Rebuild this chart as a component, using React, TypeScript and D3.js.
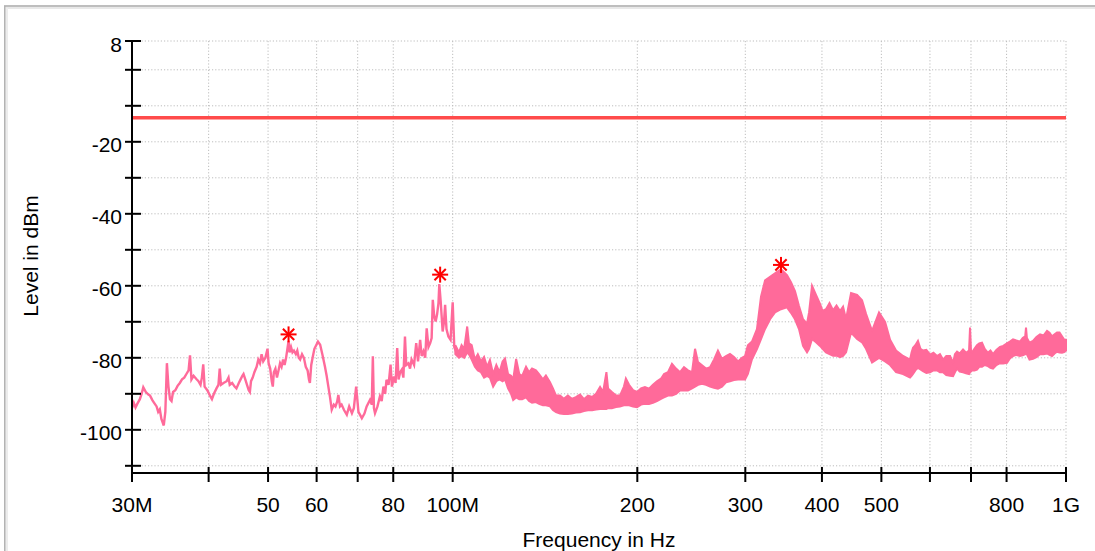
import React from 'react';
import * as d3 from 'd3';

// Frequencies in MHz, levels in dBm
const traceFreq = [30.0,30.2,30.4,30.6,30.9,31.1,31.3,31.6,31.9,32.1,32.4,32.6,32.9,33.1,33.3,33.5,33.8,34.0,34.2,34.4,34.6,34.8,35.0,35.3,35.6,35.9,36.2,36.5,36.8,37.1,37.3,37.5,37.8,38.2,38.5,38.8,39.0,39.2,39.4,39.8,40.2,40.5,40.8,41.2,41.5,41.7,41.9,42.3,42.8,43.1,43.3,43.7,44.1,44.4,44.8,45.1,45.4,45.6,45.9,46.2,46.5,46.7,46.9,47.2,47.5,47.9,48.2,48.5,48.8,49.1,49.5,49.9,50.1,50.4,50.7,50.9,51.1,51.4,51.7,52.0,52.3,52.6,52.9,53.2,53.5,54.0,54.2,54.5,54.8,55.1,55.5,55.8,56.1,56.4,56.8,57.2,57.6,58.0,58.3,58.5,58.8,59.1,59.5,59.9,60.3,60.8,61.3,61.9,62.3,62.7,63.1,63.5,64.0,64.4,64.8,65.1,65.5,65.9,66.5,67.2,67.8,68.5,69.0,69.6,70.2,70.7,71.1,71.8,72.4,73.3,73.8,74.1,74.4,74.7,75.4,76.1,76.6,77.1,77.6,78.0,78.6,79.2,79.6,80.2,80.7,81.2,81.6,82.1,82.6,83.1,83.6,84.0,84.7,85.2,85.7,86.5,87.2,87.8,88.5,89.0,89.6,90.2,90.7,91.3,91.9,92.4,92.8,93.3,93.8,94.3,94.8,95.1,95.6,96.3,96.8,97.2,97.7,98.4,99.2,100.0,100.6,101.5];
const traceLevel = [-94.0,-92.5,-93.8,-92.8,-91.5,-90.0,-88.2,-89.5,-90.2,-90.5,-91.8,-92.5,-93.5,-95.0,-94.3,-97.0,-98.8,-95.0,-81.5,-88.0,-91.5,-92.0,-89.5,-89.0,-87.8,-87.0,-86.0,-85.5,-84.5,-83.5,-79.3,-86.0,-85.0,-85.9,-86.5,-87.5,-85.5,-81.8,-88.0,-89.0,-90.5,-91.5,-90.0,-88.5,-87.5,-83.0,-87.5,-87.0,-86.5,-85.5,-87.5,-87.0,-88.0,-88.5,-87.0,-86.0,-85.0,-84.5,-86.0,-87.5,-89.0,-89.5,-86.5,-85.5,-84.0,-82.5,-80.5,-81.5,-79.0,-81.0,-80.0,-77.5,-81.5,-83.0,-86.5,-88.0,-84.0,-83.0,-85.5,-83.5,-81.5,-82.5,-80.5,-82.0,-80.0,-75.3,-78.5,-77.0,-78.5,-78.0,-79.0,-78.0,-80.0,-80.5,-79.0,-80.0,-82.5,-83.5,-86.0,-87.0,-82.0,-80.0,-77.5,-76.5,-75.5,-76.4,-79.0,-82.4,-85.0,-88.0,-91.0,-94.4,-93.0,-93.5,-92.2,-90.3,-93.5,-93.0,-94.5,-95.8,-93.5,-95.4,-94.0,-88.0,-95.0,-96.0,-96.8,-95.5,-93.5,-91.7,-93.0,-79.6,-94.0,-95.4,-93.5,-90.7,-92.0,-88.0,-90.0,-86.1,-87.5,-81.9,-88.0,-85.2,-87.0,-77.3,-86.0,-84.0,-83.3,-85.5,-74.1,-82.0,-81.5,-83.0,-80.5,-82.0,-75.9,-81.0,-75.0,-79.5,-78.2,-80.0,-71.8,-77.0,-75.9,-74.5,-63.9,-68.5,-69.9,-68.0,-64.8,-59.5,-64.4,-72.7,-70.0,-65.3,-72.0,-74.1,-75.0,-64.6,-77.0,-78.7];

// Dense part of the sweep: [frequency MHz, upper envelope dBm, lower envelope dBm]
const bandEnvelope: [number, number, number][] = [
  [101.0,-76.5,-79.0],[102.4,-78.5,-80.0],[103.4,-76.5,-79.5],[104.4,-77.5,-80.0],[105.6,-71.3,-78.5],
  [106.3,-76.0,-79.0],[107.4,-76.5,-80.5],[108.7,-80.5,-82.5],[109.9,-79.0,-83.5],[111.2,-81.0,-84.0],
  [112.5,-79.8,-85.5],[113.8,-82.5,-85.0],[115.0,-80.6,-85.5],[116.4,-84.5,-88.0],[117.8,-82.0,-86.5],
  [119.2,-84.0,-86.0],[120.6,-81.0,-86.5],[121.7,-80.2,-86.0],[123.1,-84.5,-88.5],[124.5,-85.0,-90.0],
  [125.5,-86.0,-91.7],[126.9,-80.3,-91.0],[128.4,-84.5,-91.5],[129.8,-85.0,-91.5],[131.7,-82.5,-91.0],
  [133.2,-84.0,-92.0],[134.7,-83.0,-92.5],[136.7,-83.5,-92.3],[138.3,-84.5,-92.8],[140.3,-86.0,-93.2],
  [141.9,-84.9,-93.2],[144.1,-86.8,-93.5],[145.7,-88.5,-94.5],[147.4,-90.5,-95.1],[149.6,-90.5,-95.5],
  [151.8,-91.4,-95.6],[154.1,-90.5,-95.6],[156.4,-91.4,-95.5],[158.8,-90.9,-95.2],[161.3,-90.2,-95.1],
  [163.7,-91.5,-94.8],[166.2,-90.5,-94.6],[168.8,-90.9,-94.6],[171.3,-90.0,-94.4],[173.9,-88.1,-94.2],
  [175.9,-89.5,-94.2],[178.1,-84.0,-94.2],[179.2,-88.5,-94.0],[181.8,-89.5,-94.0],[184.6,-90.5,-93.7],
  [187.4,-90.5,-93.5],[190.2,-88.0,-93.2],[191.6,-85.8,-93.2],[193.9,-87.5,-93.2],[196.8,-89.0,-93.5],
  [199.8,-89.5,-93.7],[202.8,-88.5,-93.0],[205.8,-88.1,-92.8],[209.0,-88.6,-92.8],[212.1,-87.5,-92.5],
  [215.3,-86.5,-92.0],[218.6,-85.8,-91.4],[221.1,-84.5,-91.0],[224.4,-84.0,-90.5],[227.8,-81.7,-90.5],
  [231.3,-83.0,-90.0],[234.8,-84.0,-89.1],[238.3,-82.6,-89.0],[241.9,-83.5,-89.1],[245.6,-84.0,-88.5],
  [248.4,-77.5,-88.0],[251.2,-81.2,-87.5],[255.0,-82.1,-87.2],[258.9,-83.0,-87.5],[262.8,-82.6,-88.0],
  [266.7,-80.5,-88.3],[270.7,-78.0,-88.6],[274.8,-80.3,-88.0],[279.0,-79.5,-86.8],[283.2,-78.9,-86.5],
  [287.5,-79.8,-86.2],[291.9,-81.0,-86.0],[296.3,-80.0,-86.0],[299.7,-79.5,-86.0],[302.9,-76.5,-84.5],
  [307.6,-75.5,-80.4],[313.4,-72.0,-77.6],[318.2,-63.0,-74.8],[323.1,-58.5,-72.0],[329.2,-57.5,-69.3],
  [335.4,-56.5,-67.4],[343.0,-55.4,-66.5],[350.8,-57.0,-66.0],[356.1,-59.0,-67.5],[361.5,-61.5,-69.3],
  [367.0,-65.6,-72.0],[372.6,-69.3,-76.7],[378.2,-70.5,-78.5],[381.1,-67.4,-77.5],[385.4,-60.0,-74.8],
  [391.2,-62.5,-75.7],[397.1,-65.0,-76.7],[401.0,-67.0,-77.5],[406.1,-66.5,-78.5],[411.5,-64.8,-79.0],
  [417.0,-66.8,-79.4],[422.5,-65.5,-79.4],[428.1,-67.0,-79.8],[433.0,-65.8,-79.5],[437.9,-69.3,-78.5],
  [446.2,-62.0,-73.0],[456.4,-62.5,-74.8],[465.0,-64.0,-75.7],[472.0,-67.8,-77.5],[482.8,-72.5,-81.3],
  [495.6,-67.4,-80.0],[507.0,-70.0,-81.0],[516.6,-75.0,-82.0],[528.3,-78.0,-84.0],[542.4,-79.5,-84.5],
  [556.8,-80.5,-85.5],[560.0,-78.5,-85.0],[563.1,-77.2,-84.5],[568.0,-76.5,-83.5],[573.6,-75.3,-82.8],
  [579.0,-77.5,-83.2],[584.6,-78.0,-83.7],[592.0,-77.8,-84.2],[600.2,-79.1,-84.0],[608.0,-78.6,-83.5],
  [616.2,-79.5,-83.5],[623.0,-79.0,-84.0],[630.2,-80.5,-84.0],[638.0,-79.5,-84.8],[647.1,-79.5,-85.0],
  [654.4,-81.4,-85.1],[659.0,-79.0,-84.0],[664.3,-78.3,-83.0],[671.0,-78.8,-83.8],[679.4,-77.7,-84.0],
  [687.0,-78.6,-84.3],[694.9,-78.0,-84.5],[697.5,-71.6,-84.0],[700.0,-78.0,-83.8],[702.7,-78.5,-83.5],
  [709.0,-77.5,-83.5],[715.9,-76.5,-83.3],[722.0,-76.0,-82.5],[729.5,-75.8,-82.5],[737.0,-77.5,-82.0],
  [746.0,-78.6,-82.3],[753.0,-78.0,-82.8],[760.2,-79.0,-83.0],[770.0,-77.8,-82.0],[780.5,-77.0,-81.5],
  [790.0,-76.7,-81.6],[801.3,-76.0,-81.4],[810.0,-75.5,-80.2],[819.6,-74.9,-79.5],[830.0,-75.2,-79.2],
  [841.4,-75.5,-79.5],[850.0,-74.5,-79.3],[858.0,-74.0,-79.0],[860.6,-71.6,-78.5],[863.5,-74.5,-79.0],
  [872.0,-75.8,-80.5],[883.5,-75.3,-80.3],[895.0,-74.2,-79.8],[907.1,-73.5,-79.0],[919.0,-73.8,-79.0],
  [931.3,-72.5,-78.8],[940.0,-73.0,-79.2],[948.9,-74.0,-79.5],[958.0,-73.5,-78.8],[966.8,-73.0,-78.3],
  [976.0,-73.0,-78.5],[985.1,-74.0,-78.6],[993.0,-74.9,-78.4],[1000.0,-75.0,-78.0],
];

const markerFreq = [54.0, 95.4, 343.0];
const markerLevel = [-73.5, -56.9, -54.2];
const limitLevel = -13.3;

const xTicks = [30, 40, 50, 60, 70, 80, 100, 200, 300, 400, 500, 600, 700, 800, 1000];
const xLabelValues = [30, 50, 60, 80, 100, 200, 300, 400, 500, 800, 1000];
const xLabelTexts = ['30M', '50', '60', '80', '100M', '200', '300', '400', '500', '800', '1G'];
const yTicks = [8, 0, -10, -20, -30, -40, -50, -60, -70, -80, -90, -100, -110];
const yLabelValues = [8, -20, -40, -60, -80, -100];

const W = 1095;
const H = 551;
const FONT = "'Liberation Sans', Arial, Helvetica, sans-serif";
const PINK = '#FF6A9A';

export default function App() {
  const x = d3.scaleLog().domain([30, 1000]).range([132, 1066]);
  const y = d3.scaleLinear().domain([-112, 8]).range([473, 41]);

  const tracePts: [number, number][] = traceFreq.map((f, i) => [x(f), y(traceLevel[i])]);
  const linePath = d3.line()(tracePts) || '';
  const areaGen = d3
    .area<[number, number, number]>()
    .x((d) => x(d[0]))
    .y0((d) => y(d[2]))
    .y1((d) => y(d[1]));
  const bandPath = areaGen(bandEnvelope) || '';

  const [x0, x1] = x.range();
  const [yb, yt] = y.range();

  return (
    <svg
      width={W}
      height={H}
      style={{ position: 'absolute', left: 0, top: 0, background: '#fff' }}
      fontFamily={FONT}
    >
      <rect x={0} y={0} width={W} height={H} fill="#fff" />
      {/* frame */}
      <line x1={4} x2={W} y1={6} y2={6} stroke="#a9a9a9" strokeWidth={1.6} />
      <line x1={6} x2={W} y1={8} y2={8} stroke="#e8e8e8" strokeWidth={2} />
      <line x1={4.8} x2={4.8} y1={6} y2={H} stroke="#b3b3b3" strokeWidth={1.6} />
      <line x1={7} x2={7} y1={8} y2={H} stroke="#ececec" strokeWidth={2} />

      {/* grid */}
      {yTicks.map((t) => (
        <line key={'gy' + t} x1={x0} x2={x1} y1={y(t)} y2={y(t)} stroke="#bdbdbd" strokeWidth={1} strokeDasharray="1.2,2" />
      ))}
      {xTicks.map((t) => (
        <line key={'gx' + t} x1={x(t)} x2={x(t)} y1={yt} y2={yb} stroke="#bdbdbd" strokeWidth={1} strokeDasharray="1.2,2" />
      ))}

      {/* limit line */}
      <line x1={x0} x2={x1} y1={y(limitLevel)} y2={y(limitLevel)} stroke="#FF4B4B" strokeWidth={3.5} />

      {/* trace */}
      <path d={bandPath} fill={PINK} stroke={PINK} strokeWidth={2} strokeLinejoin="miter" />
      <path d={linePath} fill="none" stroke={PINK} strokeWidth={2.4} strokeLinejoin="miter" />

      {/* markers */}
      {markerFreq.map((f, i) => {
        const cx = x(f);
        const cy = y(markerLevel[i]);
        const r = 8;
        const d = r * Math.SQRT1_2;
        return (
          <g key={'m' + i} stroke="#FF0000" strokeWidth={2}>
            <line x1={cx - r} x2={cx + r} y1={cy} y2={cy} />
            <line x1={cx} x2={cx} y1={cy - r} y2={cy + r} />
            <line x1={cx - d} x2={cx + d} y1={cy - d} y2={cy + d} />
            <line x1={cx - d} x2={cx + d} y1={cy + d} y2={cy - d} />
          </g>
        );
      })}

      {/* axes */}
      <line x1={x0} x2={x0} y1={yt - 1} y2={yb + 1} stroke="#000" strokeWidth={2} />
      <line x1={x0 - 1} x2={x1 + 1} y1={yb} y2={yb} stroke="#000" strokeWidth={2} />
      {yTicks.map((t) => (
        <line key={'ty' + t} x1={x0 - 7} x2={x0 + 9} y1={y(t)} y2={y(t)} stroke="#000" strokeWidth={2} />
      ))}
      {xTicks.map((t) => (
        <line key={'tx' + t} x1={x(t)} x2={x(t)} y1={yb - 6} y2={yb + 9} stroke="#000" strokeWidth={2} />
      ))}

      {yLabelValues.map((t) => (
        <text key={'ly' + t} x={x0 - 10} y={y(t)} dy="0.5em" textAnchor="end" fontSize={21} fill="#000">
          {t}
        </text>
      ))}
      {xLabelValues.map((t, i) => (
        <text key={'lx' + t} x={x(t)} y={yb + 39} textAnchor="middle" fontSize={21} fill="#000">
          {xLabelTexts[i]}
        </text>
      ))}

      <text x={(x0 + x1) / 2} y={547} textAnchor="middle" fontSize={21} fill="#000">
        Frequency in Hz
      </text>
      <text
        transform={`translate(38, ${(yt + yb) / 2 - 1}) rotate(-90)`}
        textAnchor="middle"
        fontSize={21}
        fill="#000"
      >
        Level in dBm
      </text>
    </svg>
  );
}
